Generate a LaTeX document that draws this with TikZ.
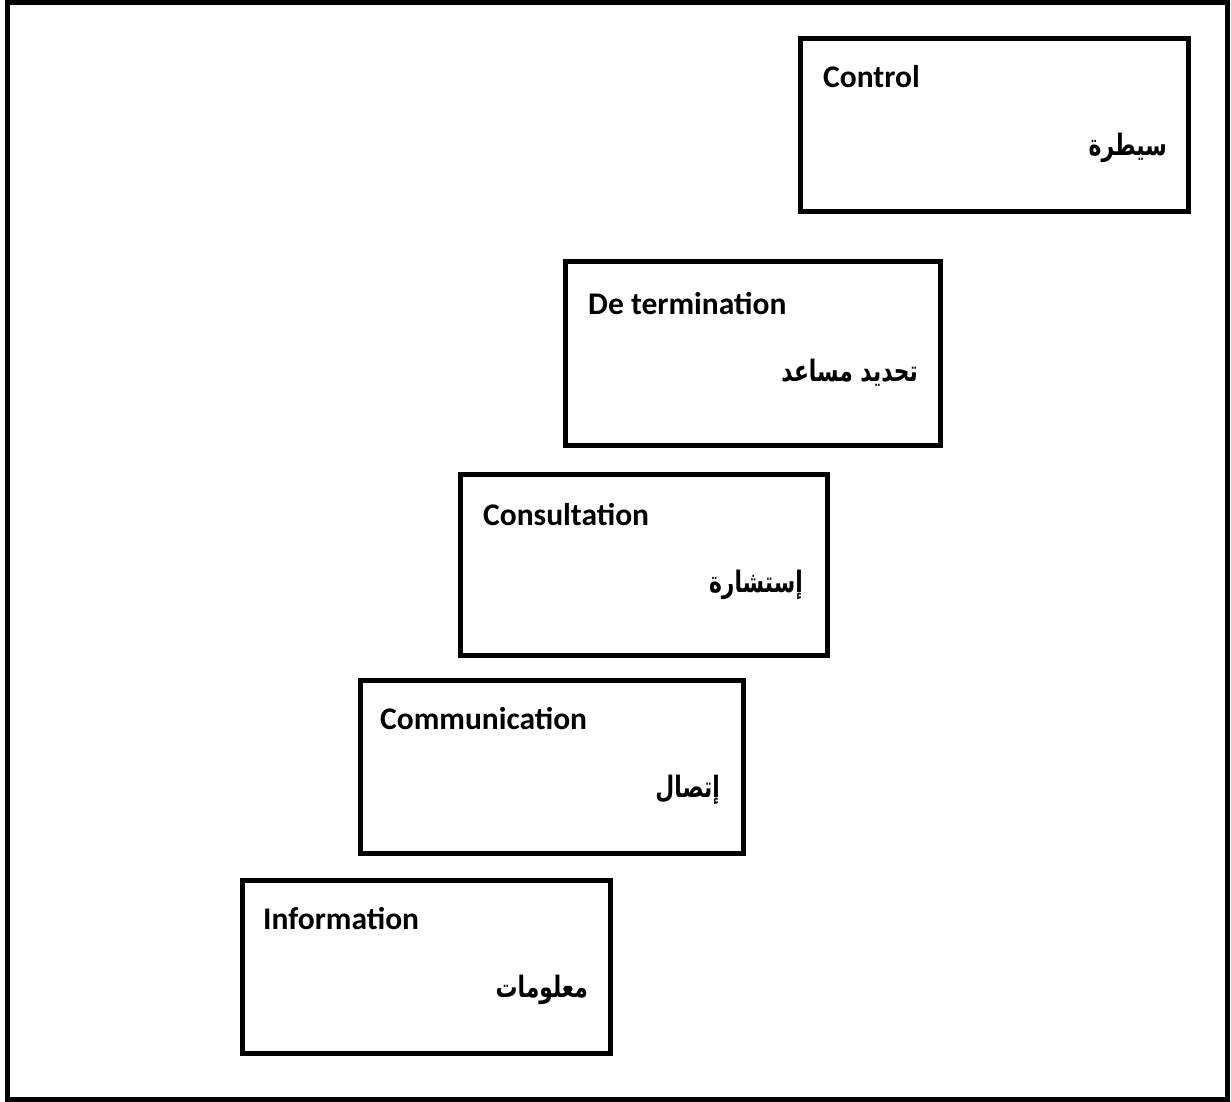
\documentclass[tikz,border=0pt]{standalone}
\usepackage{fontspec}
\setmainfont{Carlito}
\newfontfamily\arabicfont[Script=Arabic,FakeStretch=0.74]{DejaVu Sans}
\TeXXeTstate=1
\begin{document}
\begin{tikzpicture}[x=1pt,y=-1pt,
  stagebox/.style={draw=black,line width=5pt,inner sep=0pt,fill=white},
  entext/.style={anchor=base west,inner sep=0pt,font=\fontsize{31.5}{36}\selectfont\bfseries},
  artext/.style={anchor=east,inner sep=0pt,font=\fontsize{29.5}{34}\selectfont\arabicfont\bfseries}]
\useasboundingbox (0,0) rectangle (1231,1101);
\node[draw=black,line width=5pt,minimum width=1220pt,minimum height=1097pt,inner sep=0pt] (frame) at (617.75,550.5) {};
% boxes
\node[stagebox,minimum width=388pt,minimum height=173pt] (b5) at (994,124.5) {};
\node[stagebox,minimum width=375pt,minimum height=184pt] (b4) at (752.5,353) {};
\node[stagebox,minimum width=367pt,minimum height=181pt] (b3) at (643.5,564.5) {};
\node[stagebox,minimum width=383pt,minimum height=173pt] (b2) at (551.5,766.5) {};
\node[stagebox,minimum width=368pt,minimum height=173pt] (b1) at (426,966.5) {};
% English labels
\node[entext] (t5) at (823,87) {Control};
\node[entext] (t4) at (588,314) {De termination};
\node[entext] (t3) at (483,525) {Consultation};
\node[entext] (t2) at (380,729) {Communication};
\node[entext] (t1) at (263,929) {Information};
% Arabic labels
\node[artext] (a5) at (1167,148) {\beginR سيطرة\endR};
\node[artext] (a4) at (918,373) {\beginR تحديد مساعد\endR};
\node[artext] (a3) at (803,585) {\beginR إستشارة\endR};
\node[artext] (a2) at (720,790) {\beginR إتصال\endR};
\node[artext] (a1) at (588,990) {\beginR معلومات\endR};
\end{tikzpicture}
\end{document}
